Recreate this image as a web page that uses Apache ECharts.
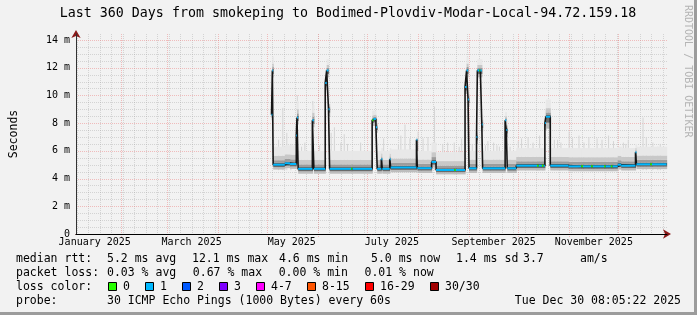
<!DOCTYPE html>
<html><head><meta charset="utf-8">
<script src="https://cdn.jsdelivr.net/npm/echarts@6/dist/echarts.min.js"></script>
<style>
html,body{margin:0;padding:0;background:#f2f2f2;}
#wrap{position:relative;width:697px;height:315px;overflow:hidden;}
#c{position:absolute;left:0;top:0;width:697px;height:315px;}
#frame{position:absolute;left:0;top:0;width:697px;height:315px;box-sizing:border-box;border-right:3px solid #9c9c9c;border-bottom:3px solid #9c9c9c;pointer-events:none;}
</style></head>
<body><div id="wrap"><div id="c"></div><div id="frame"></div></div>
<script>
// ---------------- data ----------------
const times = [
 '2025-05-03 17:00','2025-05-04 05:00','2025-05-04 17:00','2025-05-11 19:00','2025-05-15 00:00',
 '2025-05-18 19:00','2025-05-19 05:00','2025-05-19 22:00','2025-05-28 14:00','2025-05-29 12:00',
 '2025-06-05 10:00','2025-06-06 07:00','2025-06-07 10:00','2025-06-08 02:00','2025-06-21 05:00',
 '2025-06-22 00:00','2025-07-04 00:00','2025-07-04 19:00','2025-07-06 07:00','2025-07-07 02:00',
 '2025-07-09 14:00','2025-07-10 05:00','2025-07-14 17:00','2025-07-15 07:00','2025-07-31 00:00',
 '2025-07-31 12:00','2025-08-09 05:00','2025-08-11 22:00','2025-08-23 00:00','2025-08-24 00:00',
 '2025-08-29 14:00','2025-08-30 12:00','2025-08-31 10:00','2025-09-01 00:00','2025-09-05 14:00',
 '2025-09-06 02:00','2025-09-07 07:00','2025-09-07 22:00','2025-09-08 19:00','2025-09-09 07:00',
 '2025-09-23 00:00','2025-09-23 17:00','2025-09-24 07:00','2025-09-29 19:00','2025-10-12 10:00',
 '2025-10-13 10:00','2025-10-15 10:00','2025-10-16 10:00','2025-10-17 05:00','2025-10-17 19:00',
 '2025-10-20 12:00','2025-10-31 14:00','2025-11-08 10:00','2025-11-09 10:00','2025-11-14 10:00',
 '2025-11-15 10:00','2025-11-22 05:00','2025-11-23 05:00','2025-11-26 10:00','2025-11-27 10:00',
 '2025-11-30 14:00','2025-12-02 17:00','2025-12-11 10:00','2025-12-12 00:00','2025-12-20 10:00',
 '2025-12-21 10:00'
];
const dataEnd = '2025-12-30 08:05';
// median rtt in ms
const median = [
 8.6,11.8,5.0,5.1,5.05,7.1,8.4,4.7,8.2,4.7,
 10.9,11.8,9.0,4.7,4.7,4.7,8.2,8.3,7.7,4.7,
 5.4,4.7,5.4,4.8,6.8,4.75,5.2,4.62,4.62,4.62,
 10.6,11.8,9.7,4.74,7.0,11.8,11.8,11.8,7.9,4.74,
 8.2,7.5,4.74,4.93,4.93,4.93,4.93,4.93,8.0,8.46,
 4.93,4.88,4.88,4.88,4.88,4.88,4.88,4.88,4.88,4.88,
 5.0,4.93,5.9,5.03,5.03,5.03
];
// loss bucket index (0 = no loss, 1 = 1 lost ping ...)
const loss = [
 1,1,1,1,1,1,1,1,1,1,
 1,1,1,1,0,1,0,1,1,1,
 1,1,1,1,1,1,1,1,0,1,
 1,1,1,1,1,1,0,1,1,1,
 1,1,1,1,0,1,0,1,1,1,
 1,1,0,1,0,1,0,1,0,1,
 1,1,1,1,0,1
];
// smoke extent (ms)
const smokeLo = [
 8.2,11.3,4.65,4.75,4.7,6.6,7.9,4.35,7.7,4.35,
 10.4,11.3,8.5,4.35,4.35,4.35,7.8,7.8,7.3,4.35,
 4.7,4.35,4.7,4.45,5.0,4.4,4.8,4.3,4.3,4.3,
 10.1,11.3,9.2,4.4,6.5,11.3,11.3,11.3,7.4,4.4,
 7.7,7.0,4.4,4.58,4.58,4.58,4.58,4.58,7.5,7.6,
 4.58,4.53,4.53,4.53,4.53,4.53,4.53,4.53,4.53,4.53,
 4.65,4.58,5.0,4.68,4.68,4.68
];
const smokeHi = [
 9.2,12.8,6.3,6.4,6.4,7.8,9.6,6.0,9.3,6.0,
 11.5,12.6,9.8,6.0,6.0,6.0,8.9,8.9,8.3,6.0,
 6.2,6.0,6.2,6.1,7.0,6.0,6.6,5.9,5.9,5.9,
 11.3,12.8,10.4,6.0,7.7,12.6,12.6,12.6,8.6,6.0,
 8.8,8.2,6.0,6.2,6.2,6.2,6.2,6.2,9.0,9.7,
 6.2,6.2,6.2,6.2,6.2,6.2,6.2,6.2,6.2,6.2,
 6.3,6.2,6.5,6.3,6.3,6.3
];
// sparse single-ping maxima (light grey needles)
const peakTimes = [
 '2025-05-08 00:00','2025-05-10 14:00','2025-05-13 00:00','2025-05-15 12:00','2025-05-19 10:00',
 '2025-05-22 00:00','2025-05-24 00:00','2025-05-25 12:00','2025-05-28 20:00','2025-06-02 00:00',
 '2025-06-09 00:00','2025-06-11 00:00','2025-06-15 00:00','2025-06-17 00:00','2025-06-19 00:00',
 '2025-06-27 00:00','2025-07-11 00:00','2025-07-20 00:00','2025-07-21 12:00','2025-07-24 00:00',
 '2025-07-27 00:00','2025-08-01 00:00','2025-08-04 00:00','2025-08-07 00:00','2025-08-11 00:00',
 '2025-08-16 00:00','2025-08-19 00:00','2025-08-23 00:00','2025-08-26 00:00','2025-08-27 12:00',
 '2025-09-03 00:00','2025-09-11 00:00','2025-09-12 12:00','2025-09-16 00:00','2025-09-18 00:00',
 '2025-09-19 12:00','2025-09-26 00:00','2025-10-01 00:00','2025-10-03 00:00','2025-10-07 00:00',
 '2025-10-10 00:00','2025-10-14 00:00','2025-10-23 00:00','2025-10-25 00:00','2025-10-27 00:00',
 '2025-11-01 00:00','2025-11-03 00:00','2025-11-07 00:00','2025-11-10 00:00','2025-11-13 00:00',
 '2025-11-18 00:00','2025-11-21 00:00','2025-11-25 00:00','2025-11-28 00:00','2025-12-04 00:00',
 '2025-12-05 12:00','2025-12-07 00:00','2025-12-16 00:00','2025-12-18 00:00','2025-12-22 00:00',
 '2025-12-25 00:00','2025-12-26 12:00'
];
const peakValues = [
 6.8,9.1,7.3,6.5,10.0,6.3,6.6,6.0,9.6,6.4,
 7.3,7.7,6.6,7.2,6.5,6.6,6.9,6.5,7.1,7.9,
 6.9,7.4,6.9,7.0,9.2,6.5,6.6,6.6,6.3,6.9,
 6.5,6.4,6.7,6.6,6.4,6.3,6.3,6.7,6.9,7.0,
 6.6,7.1,6.8,6.8,6.6,7.4,6.9,7.1,6.6,7.0,
 6.9,6.8,7.1,6.7,6.6,6.5,6.8,8.4,7.0,6.6,
 6.3,6.5
];
const axisStart = '2025-01-04 14:24';
const axisEnd = '2025-12-30 14:24';
const yMax = 14.43;
const yStep = 2;
const monthLabelDates = ['2025-01-16 00:00','2025-03-16 00:00','2025-05-16 00:00','2025-07-16 00:00','2025-09-16 00:00','2025-11-16 00:00'];
const monthLabels = ['January 2025','March 2025','May 2025','July 2025','September 2025','November 2025'];
const lossLabels = ['0','1','2','3','4-7','8-15','16-29','30/30'];
const lossColors = ['#26ff00','#00b8ff','#0059ff','#7e00ff','#ff00ff','#ff5500','#ff0000','#a10000'];
const titleText = 'Last 360 Days from smokeping to Bodimed-Plovdiv-Modar-Local-94.72.159.18';
const medianStats = ['5.2 ms avg','12.1 ms max','4.6 ms min','5.0 ms now','1.4 ms sd','3.7','am/s'];
const lossStats = ['0.03 % avg','0.67 % max','0.00 % min','0.01 % now'];
const probeText = '30 ICMP Echo Pings (1000 Bytes) every 60s';
const stampText = 'Tue Dec 30 08:05:22 2025';
const sideText = 'RRDTOOL / TOBI OETIKER';

// ---------------- build ----------------
const P = s => new Date(s.replace(' ', 'T')).getTime();
const T = times.map(P);
const tEnd = P(dataEnd);
const xMin = P(axisStart), xMax = P(axisEnd);
const MONO = '"DejaVu Sans Mono", monospace';

const segItems = T.map((t, i) => [t, i + 1 < T.length ? T[i + 1] : tEnd, median[i], smokeLo[i], smokeHi[i], loss[i]]);
const stepData = T.map((t, i) => [t, median[i]]).concat([[tEnd, median[median.length - 1]]]);
const peakItems = peakTimes.map((s, i) => [P(s), peakValues[i]]);
const labelItems = monthLabelDates.map((s, i) => [P(s), 0, i]);

// grid lines (axis furniture): [x, y, kind]
const gridItems = [];
for (let k = 0; ; k++) { const t = new Date(2025, 0, 5 + 7 * k).getTime(); if (t > xMax) break; if (t > xMin) gridItems.push([t, 0, 0]); }
for (let m = 1; m < 12; m++) gridItems.push([new Date(2025, m, 1).getTime(), 0, 1]);
for (let v = 0.5; v < yMax; v += 0.5) gridItems.push([xMin, v, v % yStep === 0 ? 3 : 2]);

const smokeBands = [
  [0.0, 0.5, '#bdbdbd', 'lo'], [0.5, 1.0, '#6a6a6a', 'lo'],
  [0.0, 0.1, '#606060', 'hi'], [0.1, 0.25, '#9c9c9c', 'hi'], [0.25, 0.5, '#c8c8c8', 'hi'], [0.5, 1.0, '#e8e8e8', 'hi']
];

const option = {
  animation: false,
  backgroundColor: '#f2f2f2',
  grid: { left: 67, right: 30, top: 34, bottom: 81, containLabel: false },
  xAxis: [{
    type: 'time', min: xMin, max: xMax, z: 3,
    axisLine: { show: true, onZero: false, lineStyle: { color: '#000', width: 1 } },
    axisTick: { show: false },
    splitLine: { show: false },
    axisLabel: { show: false }
  }, {
    type: 'time', min: xMin, max: xMax, position: 'bottom', z: 1,
    axisLine: { show: true, onZero: false, symbol: ['none', 'arrow'], symbolSize: [7, 8], symbolOffset: [0, 4], lineStyle: { color: '#8b1a1a' } },
    axisTick: { show: false }, axisLabel: { show: false }, splitLine: { show: false }
  }],
  yAxis: [{
    type: 'value', min: 0, max: yMax, interval: yStep, z: 3,
    name: 'Seconds', nameLocation: 'middle', nameGap: 56, nameRotate: 90,
    nameTextStyle: { fontFamily: MONO, fontSize: 11.5, color: '#000' },
    axisLine: { show: true, lineStyle: { color: '#333' } },
    axisTick: { show: false },
    splitLine: { show: false },
    axisLabel: {
      margin: 6, color: '#000', fontFamily: MONO, fontSize: 10, showMaxLabel: false,
      formatter: v => v === 0 ? '0' : (Math.abs(v % yStep) < 1e-9 ? v + ' m' : '')
    }
  }, {
    type: 'value', min: 0, max: yMax, position: 'left', z: 1,
    axisLine: { show: true, symbol: ['none', 'arrow'], symbolSize: [7, 8], symbolOffset: [0, 4], lineStyle: { color: '#8b1a1a' } },
    axisTick: { show: false }, axisLabel: { show: false }, splitLine: { show: false }
  }],
  series: [
    { // grid lines
      type: 'custom', z: 1, silent: true, clip: false,
      data: gridItems, encode: { x: 0, y: 1 },
      renderItem: (params, api) => {
        const kind = api.value(2);
        const cs = params.coordSys;
        let x1, y1, x2, y2;
        if (kind < 2) { const p = api.coord([api.value(0), 0]); x1 = x2 = Math.round(p[0]) + 0.5; y1 = cs.y; y2 = cs.y + cs.height + (kind === 1 ? 3 : 0); }
        else { const p = api.coord([xMin, api.value(1)]); y1 = y2 = Math.round(p[1]) + 0.5; x1 = cs.x; x2 = cs.x + cs.width; }
        const major = kind === 1 || kind === 3;
        return { type: 'line', shape: { x1, y1, x2, y2 },
          style: { stroke: major ? 'rgba(235,120,120,0.45)' : 'rgba(160,160,160,0.38)', lineWidth: 1, lineDash: [1, 1] } };
      }
    },
    { // month labels on the time axis
      type: 'custom', z: 6, silent: true, clip: false,
      data: labelItems, encode: { x: 0, y: 1 },
      renderItem: (params, api) => {
        const p = api.coord([api.value(0), 0]);
        return { type: 'text', x: p[0], y: p[1] + 3,
          style: { text: monthLabels[api.value(2)], font: '10px ' + MONO, fill: '#000', textAlign: 'center', textVerticalAlign: 'top' } };
      }
    },
    { // single-ping needles
      type: 'custom', z: 2, silent: true,
      data: peakItems, encode: { x: 0, y: 1 },
      renderItem: (params, api) => {
        const p0 = api.coord([api.value(0), 4.6]);
        const p1 = api.coord([api.value(0), api.value(1)]);
        return { type: 'line', shape: { x1: p0[0], y1: p0[1], x2: p1[0], y2: p1[1] }, style: { stroke: '#d4d4d4', lineWidth: 1 } };
      }
    },
    { // smoke
      type: 'custom', z: 3, silent: true,
      data: segItems, encode: { x: [0, 1], y: [2, 3, 4] },
      renderItem: (params, api) => {
        const t0 = api.value(0), t1 = api.value(1), m = api.value(2), lo = api.value(3), hi = api.value(4);
        const children = smokeBands.map(b => {
          const a = b[3] === 'lo' ? lo + (m - lo) * b[0] : m + (hi - m) * b[0];
          const c = b[3] === 'lo' ? lo + (m - lo) * b[1] : m + (hi - m) * b[1];
          const pa = api.coord([t0, c]), pb = api.coord([t1, a]);
          return { type: 'rect', shape: { x: pa[0], y: pa[1], width: pb[0] - pa[0] + 0.6, height: pb[1] - pa[1] }, style: { fill: b[2] } };
        });
        return { type: 'group', children };
      }
    },
    { // dark step line (transitions)
      type: 'line', z: 4, step: 'end', symbol: 'none', silent: true,
      data: stepData, lineStyle: { color: '#151515', width: 1.6 }
    },
    { // coloured median by loss
      type: 'custom', z: 5, silent: true,
      data: segItems, encode: { x: [0, 1], y: 2 },
      renderItem: (params, api) => {
        const p0 = api.coord([api.value(0), api.value(2)]);
        const p1 = api.coord([api.value(1), api.value(2)]);
        return { type: 'line', shape: { x1: p0[0], y1: p0[1], x2: p1[0], y2: p1[1] },
          style: { stroke: lossColors[api.value(5)], lineWidth: 2 } };
      }
    }
  ],
  graphic: []
};

// ---------------- text / legend ----------------
const G = option.graphic;
const txt = (s, x, y, size, extra) => G.push(Object.assign({ type: 'text', x, y, silent: true,
  style: Object.assign({ text: s, font: size + 'px ' + MONO, fill: '#000', textAlign: 'left', textVerticalAlign: 'middle' }, extra || {}) }));
txt(titleText, 348, 14, 13.3, { textAlign: 'center' });
G.push({ type: 'text', x: 688, y: 5, rotation: -Math.PI / 2, silent: true,
  style: { text: sideText, font: '10px ' + MONO, fill: '#b4b4b4', textAlign: 'left', textVerticalAlign: 'middle' } });
const CW = 6.95, L0 = 16, V0 = 107;
const rowY = [259, 273, 287, 301];
txt('median rtt:', L0, rowY[0], 11.5);
const medX = [107, 192, 279, 371, 456, 523, 580];
medianStats.forEach((s, i) => txt(s, medX[i], rowY[0], 11.5));
txt('packet loss:', L0, rowY[1], 11.5);
lossStats.forEach((s, i) => txt(s, V0 + i * 12.35 * CW, rowY[1], 11.5));
txt('loss color:', L0, rowY[2], 11.5);
let bx = 108;
lossLabels.forEach((s, i) => {
  G.push({ type: 'rect', silent: true, shape: { x: bx + 0.5, y: rowY[2] - 4.5, width: 8, height: 8 },
    style: { fill: lossColors[i], stroke: '#000', lineWidth: 1 } });
  txt(s, bx + 15, rowY[2], 11.5);
  bx += 37 + (s.length - 1) * 7;
});
txt('probe:', L0, rowY[3], 11.5);
txt(probeText, V0, rowY[3], 11.5);
txt(stampText, 681, rowY[3], 11.5, { textAlign: 'right' });

const chart = echarts.init(document.getElementById('c'), null, { renderer: 'canvas' });
chart.setOption(option);
</script>
</body></html>
